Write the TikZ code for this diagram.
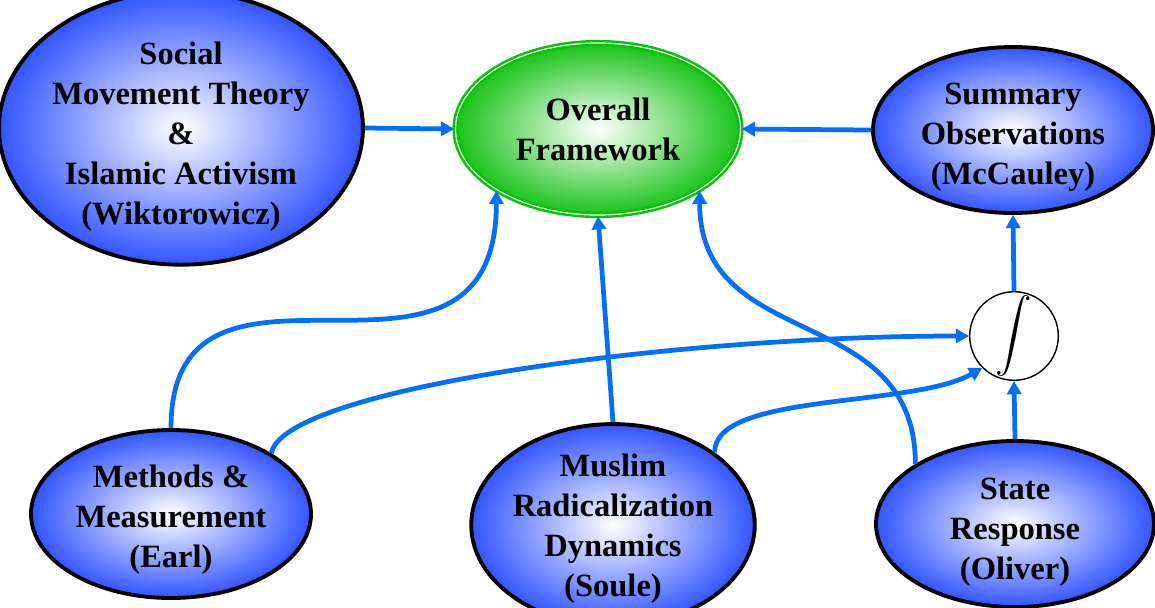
\documentclass[tikz,border=0pt]{standalone}
\usepackage{xcolor}
\usepackage{amsmath}
\usepackage{fontspec}
\setmainfont{Liberation Serif}
\usepackage{tikz}
\usetikzlibrary{shapes.geometric, arrows.meta, positioning, calc}

\definecolor{linkblue}{RGB}{0,110,255}
\definecolor{nodeblue}{RGB}{50,85,255}
\definecolor{framegreen}{RGB}{0,200,0}
\definecolor{fillgreen}{RGB}{25,195,25}
\newcommand{\topicfont}{\fontsize{18.5}{22.8}\selectfont\bfseries}

\tikzset{
	topic/.style={ellipse, draw=black, line width=2.2pt, inner color=white, outer color=nodeblue, inner sep=0pt, align=center, font=\topicfont, text depth=0pt},
	hub/.style={ellipse, draw=framegreen, line width=1.4pt, double=white, double distance=0.7pt, inner color=white, outer color=fillgreen, inner sep=0pt, align=center, font=\topicfont},
	link/.style={draw=linkblue, line width=2.7pt, -{Triangle[length=7.5pt,width=8pt]}}
}

\begin{document}
\begin{tikzpicture}
	
	\useasboundingbox (0,0) rectangle (23.1,-12.14);
	
	%//top row
	\node [topic, text height=110pt, minimum width=6.92cm, minimum height=4.84cm] (smt) at (3.62,-2.56) {Social\\Movement Theory\\\&\\Islamic Activism\\(Wiktorowicz)};
	\node [hub, minimum width=5.7cm, minimum height=3.44cm] (overall) at (11.96,-2.58) {Overall\\Framework};
	\node [topic, text height=62pt, minimum width=5.6cm, minimum height=3.32cm] (summary) at (20.26,-2.6) {Summary\\Observations\\(McCauley)};
	
	%//integrator
	\node [circle, draw=black, line width=0.8pt, fill=white, minimum size=1.76cm, inner sep=0pt] (integ) at (20.28,-6.72) {\fontsize{22}{24}\selectfont$\displaystyle\int$};
	
	%//bottom row
	\node [topic, text height=61pt, minimum width=5.6cm, minimum height=3.36cm] (methods) at (3.42,-10.28) {Methods \&\\Measurement\\(Earl)};
	\node [topic, minimum width=5.62cm, minimum height=3.36cm] (muslim) at (12.26,-10.5) {Muslim\\Radicalization\\Dynamics\\(Soule)};
	\node [topic, text height=63pt, minimum width=5.56cm, minimum height=3.32cm] (state) at (20.3,-10.48) {State\\Response\\(Oliver)};
	
	%//links
	\draw [link] (smt.east) -- (overall.west);
	\draw [link] (summary.west) -- (overall.east);
	\draw [link] (integ.north) -- (summary.south);
	\draw [link] (state.north) -- (integ.south);
	\draw [link] (muslim.north) -- (overall.south);
	
	\draw [link] (methods.north) .. controls +(0,4.37) and +(0,-4.87) .. (overall.south west);
	\draw [link] (state.north west) to[out=90, in=-90, looseness=1.2] (overall.south east);
	\draw [link] (methods.north east) .. controls +(80:1.3) and +(-6,0) .. (integ.west);
	\draw [link] (muslim.north east) .. controls +(0,1.2) and +(210:1.6) .. (integ.south west);
	
\end{tikzpicture}
\end{document}
